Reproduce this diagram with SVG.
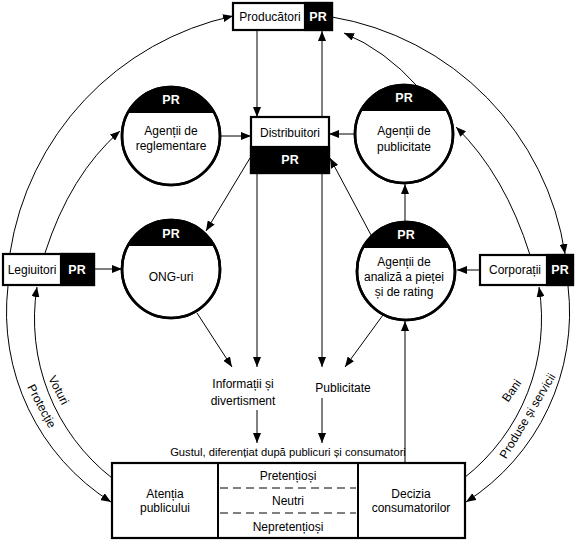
<svg xmlns="http://www.w3.org/2000/svg" width="576" height="540" viewBox="0 0 576 540">
<style>
text{font-family:"Liberation Sans",Arial,sans-serif;font-size:12px;fill:#000;text-anchor:middle}
.pr{font-weight:bold;fill:#fff;font-size:12.5px}
.box{fill:#fff;stroke:#000;stroke-width:2.2}
.blk{fill:#000;stroke:#000;stroke-width:2.2}
.circ{fill:#fff;stroke:#000;stroke-width:2.6}
.cap{fill:#000}
.ol{fill:none;stroke:#000;stroke-width:2.6}
.c{fill:none;stroke:#000;stroke-width:1}
.dash{stroke:#000;stroke-width:1;stroke-dasharray:8 5}
</style>
<defs>
<marker id="a" viewBox="0 0 10 8" refX="10" refY="4" markerWidth="10" markerHeight="8" markerUnits="userSpaceOnUse" orient="auto"><path d="M0,0 L10,4 L0,8 Z" fill="#000"/></marker>
<marker id="as" viewBox="0 0 10 8" refX="0" refY="4" markerWidth="10" markerHeight="8" markerUnits="userSpaceOnUse" orient="auto"><path d="M10,0 L0,4 L10,8 Z" fill="#000"/></marker>
</defs>
<g id="connectors">
<path class="c" d="M10,253 A287 287 0 0 1 233,16" marker-end="url(#a)"/>
<path class="c" d="M332,17 A283 283 0 0 1 565,254" marker-end="url(#a)"/>
<path class="c" d="M8,286 A225 225 0 0 0 111,502" marker-end="url(#a)"/>
<path class="c" d="M112,478 A202 202 0 0 1 37,287" marker-end="url(#a)"/>
<path class="c" d="M568,286 A225 225 0 0 1 466,502" marker-end="url(#a)"/>
<path class="c" d="M464,478 A202 202 0 0 0 539,287" marker-end="url(#a)"/>
<line class="c" x1="257" y1="31" x2="257" y2="117" marker-end="url(#a)"/>
<line class="c" x1="322" y1="31" x2="322" y2="367" marker-start="url(#as)" marker-end="url(#a)"/>
<line class="c" x1="257" y1="173" x2="257" y2="367" marker-end="url(#a)"/>
<line class="c" x1="257" y1="410" x2="257" y2="443" marker-end="url(#a)"/>
<line class="c" x1="322" y1="398" x2="322" y2="443" marker-end="url(#a)"/>
<line class="c" x1="197" y1="313" x2="232" y2="367" marker-end="url(#a)"/>
<line class="c" x1="383" y1="315" x2="345" y2="367" marker-end="url(#a)"/>
<line class="c" x1="405" y1="463" x2="405" y2="321" marker-end="url(#a)"/>
<line class="c" x1="220" y1="136" x2="251" y2="136" marker-end="url(#a)"/>
<line class="c" x1="355" y1="134" x2="329" y2="134" marker-end="url(#a)"/>
<line class="c" x1="250" y1="158" x2="206" y2="231" marker-end="url(#a)"/>
<line class="c" x1="371" y1="235" x2="330" y2="158" marker-end="url(#a)"/>
<line class="c" x1="405" y1="222" x2="405" y2="184" marker-end="url(#a)"/>
<path class="c" d="M418,87 Q385,50 344,33" marker-end="url(#a)"/>
<path class="c" d="M530,255 Q505,175 456,127" marker-end="url(#a)"/>
<path class="c" d="M45,253 Q70,175 120,131" marker-end="url(#a)"/>
<line class="c" x1="94" y1="269" x2="122" y2="269" marker-end="url(#a)"/>
<line class="c" x1="480" y1="270" x2="457" y2="270" marker-end="url(#a)"/>
<text transform="translate(38,408) rotate(62)">Protecție</text>
<text transform="translate(55,392) rotate(63)">Voturi</text>
<text transform="translate(515,393) rotate(-55)">Bani</text>
<text transform="translate(531,418) rotate(-59)">Produse și servicii</text>
</g>
<g id="producatori">
<rect class="box" x="233" y="3" width="99" height="27"/>
<rect class="blk" x="305" y="3" width="27" height="27"/>
<text x="270" y="21">Producători</text>
<text class="pr" x="318" y="21">PR</text>
</g>
<g id="distribuitori">
<rect class="box" x="251" y="117" width="78" height="56"/>
<rect class="blk" x="251" y="147" width="78" height="26"/>
<text x="290" y="137">Distribuitori</text>
<text class="pr" x="290" y="164">PR</text>
</g>
<g id="reglementare">
<circle class="circ" cx="171" cy="136" r="49"/>
<path class="cap" d="M127.7,113 A49 49 0 0 1 214.3,113 Z"/>
<circle class="ol" cx="171" cy="136" r="49"/>
<text class="pr" x="171" y="104">PR</text>
<text x="171" y="135">Agenții de</text>
<text x="171" y="150">reglementare</text>
</g>
<g id="publicitate">
<circle class="circ" cx="404" cy="134" r="49"/>
<path class="cap" d="M360.7,111 A49 49 0 0 1 447.3,111 Z"/>
<circle class="ol" cx="404" cy="134" r="49"/>
<text class="pr" x="404" y="102">PR</text>
<text x="404" y="135">Agenții de</text>
<text x="404" y="151">publicitate</text>
</g>
<g id="ong">
<circle class="circ" cx="171" cy="269" r="49"/>
<path class="cap" d="M127.7,246 A49 49 0 0 1 214.3,246 Z"/>
<circle class="ol" cx="171" cy="269" r="49"/>
<text class="pr" x="171" y="238">PR</text>
<text x="171" y="281">ONG-uri</text>
</g>
<g id="analiza">
<circle class="circ" cx="406" cy="271" r="49"/>
<path class="cap" d="M362.7,248 A49 49 0 0 1 449.3,248 Z"/>
<circle class="ol" cx="406" cy="271" r="49"/>
<text class="pr" x="406" y="239">PR</text>
<text x="404" y="266">Agenții de</text>
<text x="404" y="281">analiză a pieței</text>
<text x="404" y="296">și de rating</text>
</g>
<g id="legiuitori">
<rect class="box" x="3" y="254" width="91" height="31"/>
<rect class="blk" x="61" y="254" width="33" height="31"/>
<text x="32" y="274">Legiuitori</text>
<text class="pr" x="77" y="274">PR</text>
</g>
<g id="corporatii">
<rect class="box" x="480" y="255" width="93" height="30"/>
<rect class="blk" x="547" y="255" width="26" height="30"/>
<text x="515" y="274">Corporații</text>
<text class="pr" x="560" y="274">PR</text>
</g>
<g id="informatii">
<text x="243" y="388">Informații și</text>
<text x="243" y="405">divertisment</text>
</g>
<g id="publicitate-text">
<text x="343" y="392">Publicitate</text>
</g>
<g id="gustul">
<text x="288" y="456" style="font-size:11.2px">Gustul, diferențiat după publicuri și consumatori</text>
<rect class="box" x="112" y="463" width="353" height="75"/>
<line class="c" x1="218" y1="463" x2="218" y2="538" style="stroke-width:2"/>
<line class="c" x1="358" y1="463" x2="358" y2="538" style="stroke-width:2"/>
<line class="dash" x1="220" y1="488" x2="356" y2="488"/>
<line class="dash" x1="220" y1="513" x2="356" y2="513"/>
<text x="165" y="498">Atenția</text>
<text x="165" y="512">publicului</text>
<text x="288" y="480">Pretențioși</text>
<text x="288" y="505">Neutri</text>
<text x="288" y="531">Nepretențioși</text>
<text x="411" y="498">Decizia</text>
<text x="411" y="512">consumatorilor</text>
</g>
</svg>
